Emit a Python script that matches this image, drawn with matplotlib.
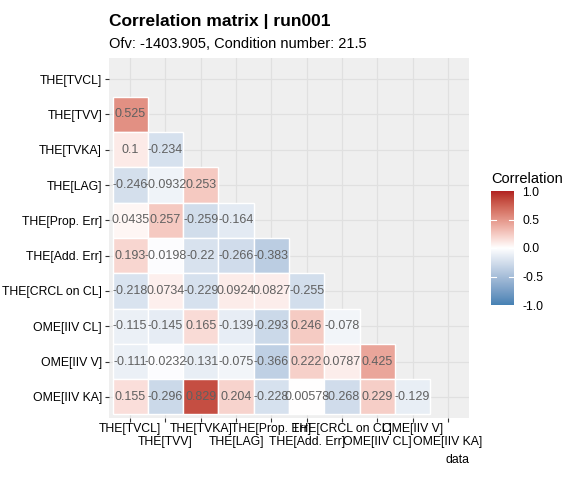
import numpy as np
import matplotlib
matplotlib.use("Agg")
import matplotlib.pyplot as plt
from matplotlib.colors import ListedColormap, Normalize, to_rgb

plt.rcParams['font.family'] = ['Liberation Sans', 'DejaVu Sans']

### DATA ###
params = ["THE[TVCL]", "THE[TVV]", "THE[TVKA]", "THE[LAG]", "THE[Prop. Err]",
          "THE[Add. Err]", "THE[CRCL on CL]", "OME[IIV CL]", "OME[IIV V]", "OME[IIV KA]"]

# lower triangle, one row per parameter (row i holds i values)
corr_rows = [
    [],
    [0.525],
    [0.1, -0.234],
    [-0.246, -0.0932, 0.253],
    [0.0435, 0.257, -0.259, -0.164],
    [0.193, -0.0198, -0.22, -0.266, -0.383],
    [-0.218, 0.0734, -0.229, 0.0924, 0.0827, -0.255],
    [-0.115, -0.145, 0.165, -0.139, -0.293, 0.246, -0.078],
    [-0.111, -0.0232, -0.131, -0.075, -0.366, 0.222, 0.0787, 0.425],
    [0.155, -0.296, 0.829, 0.204, -0.228, 0.00578, -0.268, 0.229, -0.129],
]

title = "Correlation matrix | run001"
subtitle = "Ofv: -1403.905, Condition number: 21.5"
legend_ticks = [-1.0, -0.5, 0.0, 0.5, 1.0]


### COLOUR SCALE (gradient2 style, interpolated in Lab) ###
def srgb_to_lab(rgb):
    c = np.asarray(rgb, dtype=float)
    lin = np.where(c <= 0.04045, c / 12.92, ((c + 0.055) / 1.055) ** 2.4)
    m = np.array([[0.4124, 0.3576, 0.1805],
                  [0.2126, 0.7152, 0.0722],
                  [0.0193, 0.1192, 0.9505]])
    xyz = m @ lin / np.array([0.95047, 1.0, 1.08883])
    f = np.where(xyz > 0.008856, np.cbrt(xyz), 7.787 * xyz + 16 / 116)
    return np.array([116 * f[1] - 16, 500 * (f[0] - f[1]), 200 * (f[1] - f[2])])


def lab_to_srgb(lab):
    L, a, b = lab
    fy = (L + 16) / 116
    f = np.array([fy + a / 500, fy, fy - b / 200])
    xyz = np.where(f ** 3 > 0.008856, f ** 3, (f - 16 / 116) / 7.787)
    xyz = xyz * np.array([0.95047, 1.0, 1.08883])
    minv = np.array([[3.2406, -1.5372, -0.4986],
                     [-0.9689, 1.8758, 0.0415],
                     [0.0557, -0.2040, 1.0570]])
    lin = np.clip(minv @ xyz, 0, 1)
    c = np.where(lin <= 0.0031308, 12.92 * lin, 1.055 * lin ** (1 / 2.4) - 0.055)
    return np.clip(c, 0, 1)


low = srgb_to_lab(to_rgb("steelblue"))
mid = srgb_to_lab(to_rgb("white"))
high = srgb_to_lab(to_rgb("firebrick"))
colors = []
for t in np.linspace(-1, 1, 256):
    if t < 0:
        lab = mid + (low - mid) * (-t)
    else:
        lab = mid + (high - mid) * t
    colors.append(lab_to_srgb(lab))
cmap = ListedColormap(colors)
norm = Normalize(-1, 1)

### PLOT ###
n = len(params)
fig = plt.figure(figsize=(5.76, 4.8), dpi=100)
ax = fig.add_axes([109 / 576, 1 - 418 / 480, 360 / 576, 360 / 480])
ax.set_facecolor('#EFEFEF')
ax.set_axisbelow(True)
ax.grid(True, color='#E0E0E0', linewidth=0.9)

# tiles, row by row
for i, row in enumerate(corr_rows):
    if not row:
        continue
    vals = np.array(row)
    ax.bar(np.arange(len(vals)), 1.0, bottom=i - 0.5, width=1.0,
           color=cmap(norm(vals)), edgecolor='white', linewidth=1.0)
    for j, v in enumerate(vals):
        ax.text(j, i, '%.3g' % v, ha='center', va='center',
                fontsize=9, color='#606060')

ax.set_xlim(-0.6, n - 0.4)
ax.set_ylim(n - 0.4, -0.6)
ax.set_xticks(range(n))
ax.set_yticks(range(n))
ax.set_yticklabels(params, fontsize=8.8, color='black')
ax.set_xticklabels([""] * n)
for j, p in enumerate(params):
    dy = -0.014 if j % 2 == 0 else -0.050
    ax.text(j, dy, p, transform=ax.get_xaxis_transform(), ha='center',
            va='top', fontsize=8.8, color='black')
ax.tick_params(length=3, width=0.8, color='#333333', pad=2)
for s in ax.spines.values():
    s.set_visible(False)

ax.text(1.0, -0.1, "data", transform=ax.transAxes, ha='right', va='top', fontsize=8.8)

fig.text(109 / 576, 1 - 26 / 480, title, fontsize=12.5, fontweight='bold', ha='left', va='baseline')
fig.text(109 / 576, 1 - 48 / 480, subtitle, fontsize=10.5, ha='left', va='baseline')

# legend colourbar
cax = fig.add_axes([491 / 576, 1 - 305 / 480, 23 / 576, 114 / 480])
grad = np.linspace(-1, 1, 256).reshape(-1, 1)
cax.imshow(grad, cmap=cmap, vmin=-1, vmax=1, aspect='auto', origin='lower',
           extent=[0, 1, -1, 1])
for tv in legend_ticks[1:-1]:
    cax.plot([0, 0.2], [tv, tv], color='white', linewidth=0.8)
    cax.plot([0.8, 1], [tv, tv], color='white', linewidth=0.8)
cax.set_xlim(0, 1)
cax.set_ylim(-1, 1)
cax.set_xticks([])
cax.yaxis.tick_right()
cax.set_yticks(legend_ticks)
cax.set_yticklabels(['%.1f' % t for t in legend_ticks], fontsize=8.8)
cax.tick_params(length=0, pad=6)
for s in cax.spines.values():
    s.set_visible(False)
fig.text(491 / 576, 1 - 183 / 480, "Correlation", fontsize=10.5, ha='left', va='baseline')

fig.savefig("out.png", dpi=100)
